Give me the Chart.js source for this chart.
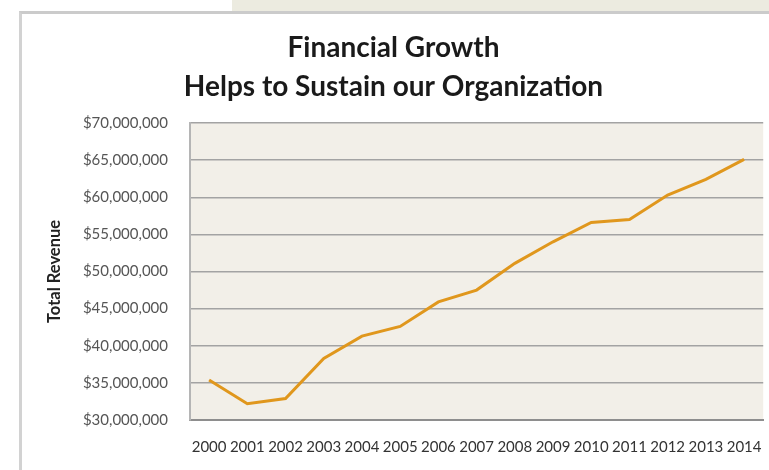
<!DOCTYPE html>
<html>
<head>
<meta charset="utf-8">
<script src="https://cdn.jsdelivr.net/npm/chart.js@4.4.0/dist/chart.umd.min.js"></script>
<style>
  html, body { margin: 0; padding: 0; width: 769px; height: 470px; overflow: hidden; background: #fff; }
  #strip { position: absolute; left: 232px; top: 0; width: 537px; height: 11px; background: #ecebe0; }
  #box { position: absolute; left: 19px; top: 11px; width: 800px; height: 500px;
         border-top: 3px solid #cbcbcb; border-left: 3px solid #d2d2d2; background: #fff; }
  #wrap { position: absolute; left: 22px; top: 14px; width: 758px; height: 456px; }
</style>
</head>
<body>
<div id="strip"></div>
<div id="box"></div>
<div id="wrap"><canvas id="revChart"></canvas></div>
<script>
'use strict'

var years = ['2000', '2001', '2002', '2003', '2004', '2005', '2006', '2007',
             '2008', '2009', '2010', '2011', '2012', '2013', '2014'];
var revenue = [35400000, 32200000, 32900000, 38300000, 41300000, 42600000, 45900000, 47500000,
               51100000, 54000000, 56600000, 57000000, 60300000, 62400000, 65100000];
var yMin = 30000000;
var yMax = 70000000;
var yStep = 5000000;

// beige plot background
const plotBg = {
  id: 'plotBg',
  beforeDraw(chart) {
    const a = chart.chartArea;
    const ctx = chart.ctx;
    ctx.save();
    ctx.fillStyle = '#f2efe8';
    ctx.fillRect(a.left, a.top, a.right - a.left, a.bottom - a.top);
    ctx.restore();
  }
};

const ctx = document.getElementById('revChart').getContext('2d');
const revChart = new Chart(ctx, {
  type: 'line',
  data: {
    labels: years,
    datasets: [{
      label: 'Total Revenue',
      data: revenue,
      borderColor: '#e0971d',
      borderWidth: 3,
      pointRadius: 0,
      tension: 0,
      fill: false
    }]
  },
  options: {
    responsive: true,
    maintainAspectRatio: false,
    animation: false,
    layout: { padding: { left: 0, right: 15, top: 0, bottom: 0 } },
    plugins: {
      legend: { display: false },
      tooltip: { enabled: false },
      title: {
        display: true,
        text: ['Financial Growth', 'Helps to Sustain our Organization'],
        color: '#1a1a1a',
        font: { family: 'Lato', size: 28, weight: 'bold', lineHeight: 1.4 },
        padding: { top: 14, bottom: 16.6 }
      }
    },
    scales: {
      x: {
        offset: true,
        grid: { display: false, drawTicks: false },
        border: { color: '#8e8e8e', width: 2 },
        ticks: { color: '#333', padding: 18, maxRotation: 0, autoSkip: false,
                 font: { family: 'Lato', size: 15 } },
        afterFit(axis) { axis.height = 50; }
      },
      y: {
        min: yMin,
        max: yMax,
        grid: { color: '#a3a3a3', lineWidth: 1.5, drawTicks: false },
        border: { color: '#b5b5b5', width: 2 },
        ticks: {
          stepSize: yStep,
          color: '#555',
          padding: 22,
          font: { family: 'Lato', size: 15 },
          callback: function (v) { return '$' + v.toLocaleString('en-US'); }
        },
        title: {
          display: true,
          text: 'Total Revenue',
          color: '#222',
          font: { family: 'Lato', size: 16.5, weight: 'bold' },
          padding: { top: 23, bottom: 0 }
        },
        afterFit(axis) { axis.width = 168; }
      }
    }
  },
  plugins: [plotBg]
});
</script>
</body>
</html>
